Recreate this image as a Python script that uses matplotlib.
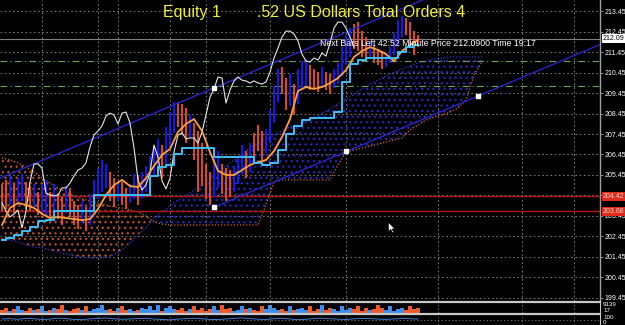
import numpy as np
import matplotlib
matplotlib.use("Agg")
import matplotlib.pyplot as plt
from matplotlib.path import Path
from matplotlib.transforms import blended_transform_factory

plt.rcParams['font.family'] = ['Liberation Sans', 'DejaVu Sans']
plt.rcParams['hatch.linewidth'] = 0.9

# ---- data (bar index, price) ----
bar_lo = [203.7, 203.8, 204.0, 203.6, 204.0, 204.2, 203.8, 203.7, 203.9, 203.5,
          203.6, 203.4, 203.2, 203.5, 203.3, 203.0, 203.6, 203.4, 203.0, 202.8,
          203.1, 202.7, 203.0, 203.6, 204.3,
          204.6, 204.8, 204.2, 203.9, 204.2, 204.0, 203.8, 204.1, 204.3, 204.0, 204.3, 204.6, 205.0,
          205.4, 205.8, 205.3, 206.0, 206.8, 207.5, 207.8, 207.4, 207.0, 207.3, 206.2, 204.6,
          204.9, 204.3, 204.0, 204.4, 204.8, 204.5, 204.2, 204.4, 204.6, 205.0, 205.5, 205.3, 205.6,
          206.3, 206.6, 206.2, 206.5, 207.0, 208.0, 209.0, 209.4, 208.6, 208.8, 208.4, 208.9,
          209.6, 209.8, 209.6, 209.7, 209.5, 209.8, 209.6, 209.4, 209.7, 209.9, 210.3, 210.8, 211.2,
          211.6, 211.5, 211.2, 211.0, 211.2, 210.9, 210.8, 210.6, 210.7, 210.9, 211.3, 211.8, 212.2,
          212.3, 211.8, 211.3, 211.7]
bar_hi = [205.0, 205.2, 205.4, 205.0, 205.3, 205.5, 205.1, 204.9, 205.0, 204.6,
          205.0, 205.2, 204.6, 205.0, 204.5, 204.4, 204.9, 204.8, 204.2, 204.0,
          204.2, 203.9, 204.5, 205.2, 205.8,
          206.2, 206.0, 205.6, 205.3, 205.0, 205.1, 204.8, 205.0, 205.5, 205.4, 205.6, 205.9, 206.4,
          206.9, 207.2, 206.9, 207.8, 208.5, 209.0, 209.0, 208.9, 208.7, 208.4, 208.0, 207.6,
          207.0, 206.0, 205.6, 206.3, 206.6, 206.0, 205.8, 205.7, 205.9, 206.4, 206.9, 206.6, 207.0,
          207.5, 207.9, 207.6, 207.7, 208.6, 209.8, 210.6, 210.7, 210.2, 210.4, 209.9, 210.6,
          211.0, 211.1, 210.8, 210.6, 210.5, 210.7, 210.5, 210.4, 210.6, 210.9, 211.7, 212.3, 212.6,
          212.8, 212.9, 212.5, 212.2, 212.0, 211.8, 211.6, 211.5, 211.4, 211.7, 212.4, 213.0, 213.2,
          213.1, 212.9, 212.5, 212.3]
bar_dir = ("rrbrbbrrbr" "bbrbrrbrrrbrbbb" "bbrrbrrbbrbbb" "bbrbbbrrrbrr"
           "rrrbbrrrbbbrb" "rrrbbbbrrbrb" "bbrrrbrrbbbbb" "rrrrbrrrbbbbbrrrr")

volume = [3, 5, 2, 4, 6, 3, 2, 5, 3, 4, 6, 2, 3, 5, 4, 7, 3, 2, 4, 5, 3, 6, 2, 4, 5,
          7, 3, 4, 2, 5, 6, 3, 4, 2, 3, 5, 4, 6, 3, 7, 2, 5, 6, 4, 3, 5, 2, 4, 6, 3,
          5, 2, 4, 6, 3, 7, 4, 5, 2, 3, 6, 4, 5, 3, 2, 6, 4, 7, 5, 3, 4, 2, 6, 3, 4,
          5, 3, 6, 2, 4, 7, 3, 5, 4, 2, 6, 3, 5, 4, 6, 2, 5, 3, 4, 7, 5, 3, 6, 2, 4,
          5, 3, 6, 4, 5]

# chikou span (white), one value per bar
chikou = [204.08, 203.69, 203.40, 203.55, 203.74, 202.87, 203.69, 205.11, 205.99, 205.99,
          205.79, 204.57, 204.47, 204.43, 204.47, 204.82, 204.82, 205.06, 205.40, 205.69,
          205.79, 206.04, 206.82, 207.40, 207.60, 207.84, 208.33, 208.47, 208.38, 207.94,
          208.47, 208.52, 207.99, 206.77, 205.21, 204.72, 204.96, 205.55, 206.91, 206.33,
          205.16, 204.77, 205.30, 206.57, 207.40, 207.50, 207.21, 207.26, 207.26, 207.01,
          207.55, 208.38, 209.25, 209.65, 210.23, 210.18, 208.96, 209.60, 210.04, 210.23,
          210.08, 210.04, 209.94, 210.04, 209.94, 209.89, 209.99, 210.47, 211.16, 211.65,
          212.18, 212.47, 212.47, 212.33, 211.99, 211.35, 211.01, 210.96, 211.16, 211.06,
          211.40, 211.25, 211.89, 212.62, 212.91, 212.91, 212.62, 212.18, 211.69]

# tenkan (orange) and kijun (light blue), every second bar
tenkan = [203.01, 203.84, 204.08, 203.99, 203.84, 203.55, 203.35, 203.40, 203.35, 203.30,
          203.25, 203.30, 203.79, 204.47, 204.96, 205.21, 204.91, 204.86, 205.30, 205.89,
          206.43, 206.72, 207.55, 207.94, 208.18, 207.60, 206.57, 205.65, 205.45, 205.45,
          205.69, 205.94, 206.08, 206.18, 206.62, 207.30, 208.18, 209.55, 209.74, 209.65,
          209.74, 209.94, 210.18, 210.57, 211.21, 211.50, 211.69, 211.55, 211.35, 211.01,
          211.50, 211.79, 212.04]
kijun = [202.28, 202.38, 202.52, 202.72, 202.91, 203.21, 203.25, 203.69, 203.69, 203.69,
         203.69, 203.69, 204.47, 204.47, 204.47, 204.47, 204.47, 204.47, 204.47, 205.40,
         205.84, 205.94, 206.47, 206.77, 206.77, 206.77, 206.77, 206.33, 206.33, 206.33,
         206.33, 206.33, 206.04, 205.94, 206.04, 206.67, 207.45, 207.84, 208.13, 208.23,
         208.23, 208.23, 208.52, 209.99, 210.86, 211.06, 211.16, 211.16, 211.16, 211.16,
         211.45, 211.69, 211.79]

# senkou spans (cloud), every second bar, shifted forward
span_a = [202.28, 202.28, 202.18, 202.04, 201.94, 201.89, 201.79, 201.69, 201.60, 201.50,
          201.45, 201.40, 201.40, 201.45, 201.55, 201.79, 202.13, 202.52, 202.87, 203.35,
          203.65, 203.94, 204.23, 204.47, 204.72, 204.96, 205.30, 205.60, 205.89, 206.18,
          206.47, 206.77, 207.01, 207.21, 207.40, 207.60, 207.79, 207.94, 208.08, 208.28,
          208.47, 208.67, 208.91, 209.16, 209.40, 209.65, 209.89, 210.08, 210.28, 210.47,
          210.62, 210.77, 210.91, 211.01, 211.11, 211.16, 211.21, 211.21, 211.21, 211.21, 211.21]
span_b = [206.28, 206.18, 206.04, 205.84, 205.60, 205.30, 205.06, 204.82, 204.62, 204.43,
          204.28, 204.18, 204.08, 203.99, 203.89, 203.84, 203.74, 203.65, 203.45, 203.16,
          203.06, 203.01, 203.01, 203.01, 203.01, 203.01, 203.01, 203.01, 203.01, 203.01,
          203.01, 203.01, 203.01, 203.99, 205.11, 205.21, 205.21, 205.21, 205.21, 205.21,
          205.21, 205.21, 205.94, 206.57, 206.67, 206.77, 206.87, 206.96, 207.06, 207.16,
          207.26, 207.65, 207.89, 208.13, 208.28, 208.38, 208.52, 208.72, 209.11, 210.33, 210.96]

oscillator = [55, 58, 52, 60, 57, 50, 54, 62, 58, 51, 48, 56, 60, 63, 57, 52, 55, 59, 61, 54,
              50, 47, 53, 58, 62, 56, 51, 49, 55, 60, 64, 58, 53, 50, 57, 61, 55, 48, 52, 59,
              62, 57, 53, 50, 56, 60, 58, 54, 51, 55, 59, 57, 54]

# trend channel: anchors on the lower line, upper line parallel
channel_bars = [53, 86, 119]
channel_lower = [203.87, 206.60, 209.30]
channel_width = 5.82

price_levels = [199.45, 200.45, 201.45, 202.45, 203.45, 204.45, 205.45, 206.45,
                207.45, 208.45, 209.45, 210.45, 211.45, 212.45, 213.45]
grid_bars = [10, 24, 29, 42, 51, 67, 86, 109, 130, 143]
bid_price = 212.09
green_levels = [211.01, 209.79]
red_levels = [204.42, 203.68]
cursor_bar, cursor_price = 96.5, 203.15

title = "Equity 1        .52 US Dollars Total Orders 4"
info = "Next Bars Left 42:52 Minute Price 212.0900 Time 19:17"

# ---- figure ----
W, H = 625, 325
fig = plt.figure(figsize=(W / 100, H / 100), dpi=100, facecolor='black')
ax = fig.add_axes([0, 24 / H, 600 / W, 301 / H], facecolor='black')
axv = fig.add_axes([0, 12 / H, 600 / W, 11 / H], facecolor='black')
axo = fig.add_axes([0, 0, 600 / W, 11 / H], facecolor='black')

xmin, xmax = -0.5, 149.5
ax.set_xlim(xmin, xmax)
ax.set_ylim(199.30, 213.99)

for lv in price_levels:
    ax.axhline(lv, color='#8c8c8c', lw=0.6, ls=(0, (2, 3)), zorder=0)
for gb in grid_bars:
    ax.axvline(gb, color='#8c8c8c', lw=0.6, ls=(0, (2, 3)), zorder=0)

# cloud
xs = np.arange(len(span_a)) * 2
a = np.array(span_a)
b = np.array(span_b)
ax.fill_between(xs, a, b, where=a >= b, interpolate=True, facecolor='none',
                edgecolor='#2828b4', hatch='...', lw=0, zorder=1)
ax.fill_between(xs, a, b, where=b > a, interpolate=True, facecolor='none',
                edgecolor='#b8502a', hatch='...', lw=0, zorder=1)
ax.plot(xs, b, color='#d8642e', lw=0.9, ls=(0, (1, 1.5)), zorder=2)
ax.plot(xs, a, color='#3434d0', lw=0.9, ls=(0, (1, 1.5)), zorder=2)

# horizontal levels
ax.axhline(bid_price, color='#808080', lw=0.8, zorder=2)
for lv in green_levels:
    ax.axhline(lv, color='#6aa84f', lw=0.8, ls=(0, (6, 3, 1, 3)), zorder=2)
for lv in red_levels:
    ax.axhline(lv, color='#b01818', lw=1.0, zorder=2)

# bars
bx = np.arange(len(bar_lo))
cols = ['#1a1aff' if d == 'b' else '#f05028' for d in bar_dir]
ax.vlines(bx, bar_lo, bar_hi, colors=cols, lw=1.3, zorder=3)

# channel
cb = np.array(channel_bars, dtype=float)
cl = np.array(channel_lower)
slope, icpt = np.polyfit(cb, cl, 1)
up_x = np.array([xmin, 106.0])
lo_x = np.array([cb[0], xmax])
ax.plot(up_x, slope * up_x + icpt + channel_width, color='#2626c8', lw=1.0, zorder=4)
ax.plot(lo_x, slope * lo_x + icpt, color='#2626c8', lw=1.0, zorder=4)
ax.scatter(cb, cl, s=5, marker='s', color='white', zorder=8)
ax.scatter(cb[:1], cl[:1] + channel_width, s=5, marker='s', color='white', zorder=8)

# ichimoku lines
ax.plot(np.arange(len(chikou)), chikou, color='#e6e6e6', lw=0.8, zorder=5)
tx = np.arange(len(tenkan)) * 2
ax.plot(tx, tenkan, color='#ffa040', lw=1.3, zorder=6)
ax.plot(tx, kijun, color='#3cc0f5', lw=1.4, drawstyle='steps-mid', zorder=6)

# mouse cursor
cursor = Path([(0, 0), (0, -14), (3.5, -10.5), (6, -16), (8, -15), (5.5, -10), (10, -10), (0, 0)])
ax.scatter([cursor_bar], [cursor_price], marker=cursor, s=220, color='white',
           edgecolors='black', linewidths=0.4, zorder=9)

# right price scale (204.45 is hidden under a price tag)
ax.yaxis.tick_right()
ax.set_yticks(price_levels)
ax.set_yticklabels(['' if p == 204.45 else f'{p:.2f}' for p in price_levels])
ax.tick_params(axis='y', colors='#9a9a9a', labelcolor='white', labelsize=5, length=2,
               width=0.6, pad=1.5)
ax.set_xticks([])
for s in ['top', 'left', 'bottom']:
    ax.spines[s].set_visible(False)
ax.spines['right'].set_color('#a0a0a0')
ax.spines['right'].set_linewidth(1.0)

tr = blended_transform_factory(ax.transAxes, ax.transData)
ax.text(1.005, bid_price, f'{bid_price:.2f}', transform=tr, fontsize=5, color='black',
        va='center', ha='left', bbox=dict(boxstyle='square,pad=0.15', fc='white', ec='none'),
        zorder=10, clip_on=False)
for lv in red_levels:
    ax.text(1.005, lv, f'{lv:.2f}', transform=tr, fontsize=5, color='#ffd0c8',
            va='center', ha='left', bbox=dict(boxstyle='square,pad=0.15', fc='#e02a1c', ec='none'),
            zorder=10, clip_on=False)

# volume panel
axv.set_xlim(xmin, xmax)
axv.set_ylim(0, 10)
vcols = ['#3a8ff0' if d == 'b' else '#f05a28' for d in bar_dir]
axv.bar(bx, volume, width=0.8, color=vcols, lw=0)
axv.set_xticks([])
axv.set_yticks([])
for s in ['left', 'bottom']:
    axv.spines[s].set_visible(False)
for s in ['top', 'right']:
    axv.spines[s].set_color('#c8c8c8')
axv.spines['top'].set_linewidth(1.6)
axv.text(1.005, 0.75, '9139', transform=axv.transAxes, fontsize=4.5, color='white', va='center')
axv.text(1.005, 0.2, '17', transform=axv.transAxes, fontsize=4.5, color='white', va='center')
for gb in grid_bars:
    axv.axvline(gb, color='#8c8c8c', lw=0.5, ls=(0, (2, 3)))

# lower oscillator panel
axo.set_xlim(xmin, xmax)
axo.set_ylim(0, 100)
axo.plot(np.arange(len(oscillator)) * 2, oscillator, color='#4a7fd0', lw=0.7)
axo.axhline(50, color='#8c8c8c', lw=0.5, ls=(0, (2, 3)))
axo.set_xticks([])
axo.set_yticks([])
for s in ['left', 'bottom']:
    axo.spines[s].set_visible(False)
for s in ['top', 'right']:
    axo.spines[s].set_color('#c8c8c8')
axo.spines['top'].set_linewidth(1.6)
axo.text(1.005, 0.7, '100', transform=axo.transAxes, fontsize=4.5, color='white', va='center')
axo.text(1.005, 0.2, '0', transform=axo.transAxes, fontsize=4.5, color='white', va='center')
for gb in grid_bars:
    axo.axvline(gb, color='#8c8c8c', lw=0.5, ls=(0, (2, 3)))

# texts
fig.text(163 / W, 1 - 12 / H, title, color='#f0f032', fontsize=11.5, va='center', ha='left')
fig.text(320 / W, 1 - 44 / H, info, color='white', fontsize=6.3, va='center', ha='left')

fig.savefig('out.png', dpi=100, facecolor='black')
